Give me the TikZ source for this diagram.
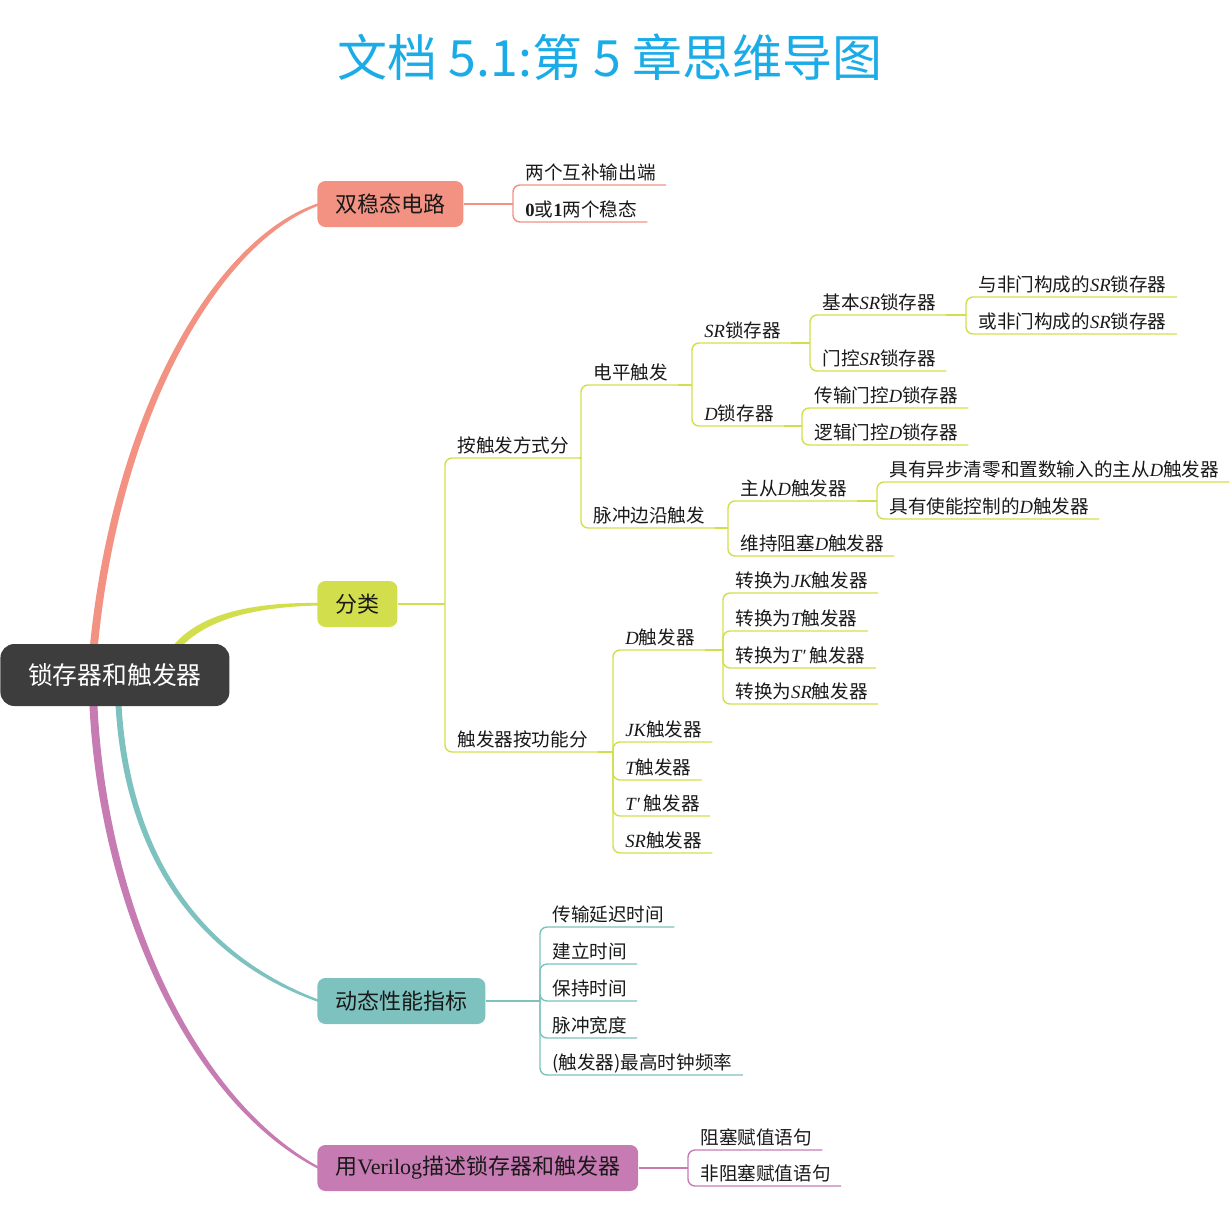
\documentclass[tikz,border=0pt]{standalone}
\usepackage{fontspec}
\setmainfont{Noto Sans CJK SC}
\newfontfamily\lat{Liberation Serif}
\usetikzlibrary{calc, backgrounds}

\definecolor{titelblau}{HTML}{1BACE8}
\definecolor{wurzelgrau}{HTML}{3D3D3D}
\definecolor{lachs}{HTML}{F39282}
\definecolor{gelbgruen}{HTML}{D2DE4B}
\definecolor{tuerkis}{HTML}{7DC2BF}
\definecolor{rosa}{HTML}{C77BB3}

\newcommand{\kursiv}[1]{{\lat\itshape #1}}

\begin{document}
\begin{tikzpicture}[x=0.5pt, y=-0.5pt,
        box/.style={rounded corners=4pt, anchor=west, minimum height=23pt, inner xsep=9pt,
            font=\fontsize{11}{13}\selectfont, text=black!90},
        blatt/.style={anchor=south west, inner xsep=5pt, inner ysep=1.5pt,
            text height=8.4pt, text depth=1.2pt, font=\fontsize{9.3}{11}\selectfont, text=black!90},
        ast/.style={line width=0.7pt, rounded corners=3.5pt}
    ]
    \useasboundingbox (0,0) rectangle (1231,1226);

    % Titel
    \node[text=titelblau, font=\fontsize{25}{30}\selectfont] (titel) at (610,57) {文档 5.1:第 5 章思维导图};

    % Zentrum und Hauptzweige
    \node[box, rounded corners=7pt, fill=wurzelgrau, text=white, minimum width=114.5pt, minimum height=31pt,
        font=\fontsize{12.4}{14}\selectfont] (wurzel) at (0,675) {锁存器和触发器};
    \node[box, fill=lachs] (bistabil) at (317,204) {双稳态电路};
    \node[box, fill=gelbgruen] (klasse) at (317,604) {分类};
    \node[box, fill=tuerkis] (dynamik) at (317,1001) {动态性能指标};
    \node[box, fill=rosa] (verilog) at (317,1168) {用{\lat Verilog}描述锁存器和触发器};

    % Verzweigungspunkte
    \coordinate (b-bistabil) at (513,204);
    \coordinate (b-klasse) at (445,604);
    \coordinate (b-art) at (581,458);
    \coordinate (b-pegel) at (692,385);
    \coordinate (b-srl) at (810,343);
    \coordinate (b-basis) at (966,315);
    \coordinate (b-dl) at (802,426);
    \coordinate (b-flanke) at (728,528);
    \coordinate (b-ms) at (877,501);
    \coordinate (b-funktion) at (613,752);
    \coordinate (b-dff) at (723,650);
    \coordinate (b-dynamik) at (540,1001);
    \coordinate (b-verilog) at (688,1168);

    % Zweig 1
    \node[blatt] (ausgang) at (515,185) {两个互补输出端};
    \node[blatt] (zustand) at (515,222) {{\lat\bfseries 0}或{\lat\bfseries 1}两个稳态};

    % Zweig 2
    \node[blatt] (art) at (447,458) {按触发方式分};
    \node[blatt] (funktion) at (447,752) {触发器按功能分};
    \node[blatt] (pegel) at (583,385) {电平触发};
    \node[blatt] (flanke) at (583,528) {脉冲边沿触发};
    \node[blatt] (srl) at (694,343) {\kursiv{SR}锁存器};
    \node[blatt] (dl) at (694,426) {\kursiv{D}锁存器};
    \node[blatt] (basis) at (812,315) {基本\kursiv{SR}锁存器};
    \node[blatt] (gesteuert) at (812,371) {门控\kursiv{SR}锁存器};
    \node[blatt] (nand) at (968,297) {与非门构成的\kursiv{SR}锁存器};
    \node[blatt] (nor) at (968,334) {或非门构成的\kursiv{SR}锁存器};
    \node[blatt] (tgate) at (804,408) {传输门控\kursiv{D}锁存器};
    \node[blatt] (lgate) at (804,445) {逻辑门控\kursiv{D}锁存器};
    \node[blatt] (ms) at (730,501) {主从\kursiv{D}触发器};
    \node[blatt] (wb) at (730,556) {维持阻塞\kursiv{D}触发器};
    \node[blatt] (asyn) at (879,482) {具有异步清零和置数输入的主从\kursiv{D}触发器};
    \node[blatt] (enable) at (879,519) {具有使能控制的\kursiv{D}触发器};
    \node[blatt] (dff) at (615,650) {\kursiv{D}触发器};
    \node[blatt] (jkff) at (615,742) {\kursiv{JK}触发器};
    \node[blatt] (tff) at (615,780) {\kursiv{T}触发器};
    \node[blatt] (tsff) at (615,816) {\kursiv{T′} 触发器};
    \node[blatt] (srff) at (615,853) {\kursiv{SR}触发器};
    \node[blatt] (zujk) at (725,593) {转换为\kursiv{JK}触发器};
    \node[blatt] (zut) at (725,631) {转换为\kursiv{T}触发器};
    \node[blatt] (zuts) at (725,668) {转换为\kursiv{T′} 触发器};
    \node[blatt] (zusr) at (725,704) {转换为\kursiv{SR}触发器};

    % Zweig 3
    \node[blatt] (laufzeit) at (542,927) {传输延迟时间};
    \node[blatt] (aufbau) at (542,964) {建立时间};
    \node[blatt] (halte) at (542,1001) {保持时间};
    \node[blatt] (puls) at (542,1038) {脉冲宽度};
    \node[blatt] (takt) at (542,1075) {(触发器)最高时钟频率};

    % Zweig 4
    \node[blatt] (blockierend) at (690,1150) {阻塞赋值语句};
    \node[blatt] (nichtblock) at (690,1186) {非阻塞赋值语句};

    % Verbindungen Zweig 1
    \draw[ast, lachs] (bistabil.east) -- (b-bistabil);
    \foreach \k in {ausgang, zustand} \draw[ast, lachs] (b-bistabil) |- (\k.south east);

    % Verbindungen Zweig 2
    \draw[ast, gelbgruen] (klasse.east) -- (b-klasse);
    \foreach \k in {art, funktion} \draw[ast, gelbgruen] (b-klasse) |- (\k.south east);
    \draw[ast, gelbgruen] (art.south east) -- (b-art);
    \foreach \k in {pegel, flanke} \draw[ast, gelbgruen] (b-art) |- (\k.south east);
    \draw[ast, gelbgruen] (pegel.south east) -- (b-pegel);
    \foreach \k in {srl, dl} \draw[ast, gelbgruen] (b-pegel) |- (\k.south east);
    \draw[ast, gelbgruen] (srl.south east) -- (b-srl);
    \foreach \k in {basis, gesteuert} \draw[ast, gelbgruen] (b-srl) |- (\k.south east);
    \draw[ast, gelbgruen] (basis.south east) -- (b-basis);
    \foreach \k in {nand, nor} \draw[ast, gelbgruen] (b-basis) |- (\k.south east);
    \draw[ast, gelbgruen] (dl.south east) -- (b-dl);
    \foreach \k in {tgate, lgate} \draw[ast, gelbgruen] (b-dl) |- (\k.south east);
    \draw[ast, gelbgruen] (flanke.south east) -- (b-flanke);
    \foreach \k in {ms, wb} \draw[ast, gelbgruen] (b-flanke) |- (\k.south east);
    \draw[ast, gelbgruen] (ms.south east) -- (b-ms);
    \foreach \k in {asyn, enable} \draw[ast, gelbgruen] (b-ms) |- (\k.south east);
    \draw[ast, gelbgruen] (funktion.south east) -- (b-funktion);
    \foreach \k in {dff, jkff, tff, tsff, srff} \draw[ast, gelbgruen] (b-funktion) |- (\k.south east);
    \draw[ast, gelbgruen] (dff.south east) -- (b-dff);
    \foreach \k in {zujk, zut, zuts, zusr} \draw[ast, gelbgruen] (b-dff) |- (\k.south east);

    % Verbindungen Zweig 3 und 4
    \draw[ast, tuerkis] (dynamik.east) -- (b-dynamik);
    \foreach \k in {laufzeit, aufbau, halte, puls, takt} \draw[ast, tuerkis] (b-dynamik) |- (\k.south east);
    \draw[ast, rosa] (verilog.east) -- (b-verilog);
    \foreach \k in {blockierend, nichtblock} \draw[ast, rosa] (b-verilog) |- (\k.south east);

    % Geschwungene Hauptaeste (hinter den Kaesten)
    \begin{scope}[on background layer]
        \fill[lachs] ($(wurzel.north west)+(89,12)$) .. controls (110,420) and (212,238) .. ($(bistabil.west)+(2,-1)$)
            -- ($(bistabil.west)+(2,1.5)$) .. controls (216,244) and (117,422) .. ($(wurzel.north west)+(97,12)$) -- cycle;
        \fill[gelbgruen] ($(wurzel.north west)+(166,12)$) .. controls (190,616) and (245,602) .. ($(klasse.west)+(2,-1)$)
            -- ($(klasse.west)+(2,1.5)$) .. controls (248,607) and (198,622) .. ($(wurzel.north west)+(174,12)$) -- cycle;
        \fill[tuerkis] ($(wurzel.south west)+(115,-12)$) .. controls (121,850) and (193,958) .. ($(dynamik.west)+(2,1.2)$)
            -- ($(dynamik.west)+(2,-1.2)$) .. controls (197,953) and (127,850) .. ($(wurzel.south west)+(121,-12)$) -- cycle;
        \fill[rosa] ($(wurzel.south west)+(89,-12)$) .. controls (96,900) and (188,1103) .. ($(verilog.west)+(2,1.2)$)
            -- ($(verilog.west)+(2,-1.2)$) .. controls (192,1097) and (104,900) .. ($(wurzel.south west)+(97,-12)$) -- cycle;
    \end{scope}

\end{tikzpicture}
\end{document}
